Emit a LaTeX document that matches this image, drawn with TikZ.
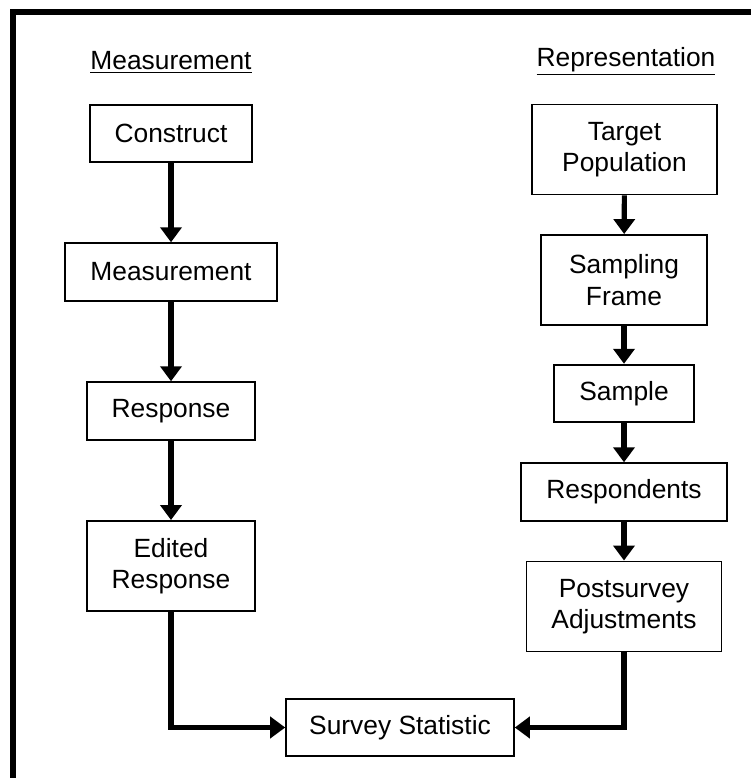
\documentclass[tikz,border=0pt]{standalone}
\usepackage{fontspec}
\setmainfont{Liberation Sans}
\usetikzlibrary{arrows.meta}
\tikzset{box/.style={draw, line width=1.1pt, inner xsep=0.5cm, minimum height=1.15cm,
                     align=center, font=\fontsize{15}{18}\selectfont}}
\tikzset{tall/.style={box, minimum height=1.8cm}}
\tikzset{flow/.style={line width=2.9pt, -{Triangle[width=0.42cm,length=0.3cm]}}}

\begin{document}
\begin{tikzpicture}[x=0.02cm,y=-0.02cm]
    \useasboundingbox (0,0) rectangle (751,778);
    \draw[line width=0.12cm] (13,778) -- (13,12) -- (751,12);
    % the two headings
    \node[font=\fontsize{15}{18}\selectfont] (hmeas) at (171,62) {\underline{Measurement}};
    \node[font=\fontsize{15}{18}\selectfont] (hrep) at (626,61) {\underline{Representation}};
    % left column
    \node[box] (construct) at (171,133.5) {Construct};
    \node[box] (measure) at (171,272) {Measurement};
    \node[box] (response) at (171,411) {Response};
    \node[tall] (edited) at (171,566) {Edited\\Response};
    % right column
    \node[tall, inner xsep=0.6cm] (target) at (624.5,149.5) {Target\\Population};
    \node[tall, inner xsep=0.56cm] (frame) at (624,280) {Sampling\\Frame};
    \node[box] (sample) at (624,393.5) {Sample};
    \node[box] (respond) at (624,492) {Respondents};
    \node[tall] (adjust) at (624,606.5) {Postsurvey\\Adjustments};
    % bottom
    \node[box, inner xsep=0.46cm] (stat) at (400,727.5) {Survey Statistic};
    \draw[flow] (construct) -- (measure);
    \draw[flow] (measure) -- (response);
    \draw[flow] (response) -- (edited);
    \draw[flow] (target) -- (frame);
    \draw[flow] (frame) -- (sample);
    \draw[flow] (sample) -- (respond);
    \draw[flow] (respond) -- (adjust);
    \draw[flow] (edited.south) |- (stat.west);
    \draw[flow] (adjust.south) |- (stat.east);
\end{tikzpicture}
\end{document}
